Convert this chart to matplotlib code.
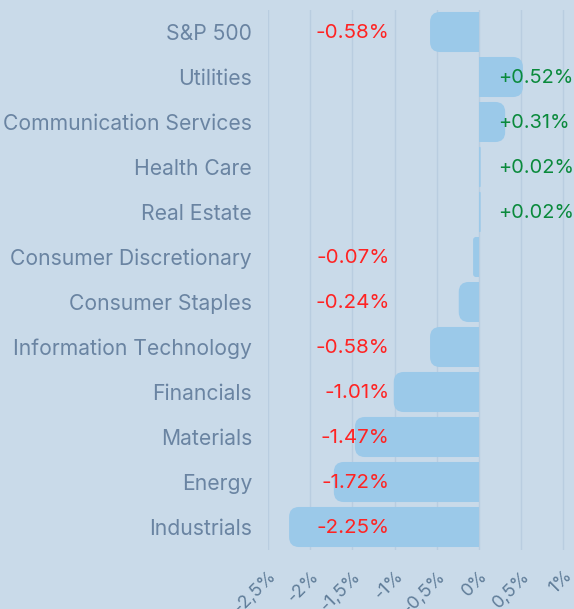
import matplotlib.pyplot as plt
from matplotlib.patches import FancyBboxPatch, Rectangle

sectors = ["S&P 500", "Utilities", "Communication Services", "Health Care",
           "Real Estate", "Consumer Discretionary", "Consumer Staples",
           "Information Technology", "Financials", "Materials", "Energy",
           "Industrials"]
changes = [-0.58, 0.52, 0.31, 0.02, 0.02, -0.07, -0.24, -0.58, -1.01,
           -1.47, -1.72, -2.25]
xticks = [-2.5, -2, -1.5, -1, -0.5, 0, 0.5, 1]
xticklabels = ["-2,5%", "-2%", "-1,5%", "-1%", "-0,5%", "0%", "0,5%", "1%"]

bg = "#c9dae9"
bar_c = "#9bc9e9"
txt_c = "#6a84a2"
tick_c = "#607d99"
grid_c = "#b9cde0"
red = "#ff2323"
green = "#0a8a3c"

plt.rcParams['font.family'] = ['Inter', 'DejaVu Sans']

fig = plt.figure(figsize=(5.74, 6.09), dpi=100, facecolor=bg)
ax = fig.add_axes([268 / 574, 59.5 / 609, 306 / 574, 540 / 609])
ax.set_facecolor(bg)

ypos = list(range(len(sectors)))
bars = ax.barh(ypos, changes, height=0.89, color=bar_c)

ax.set_xlim(-2.5, 1.1256)
ax.set_ylim(len(sectors) - 0.5, -0.5)

# rounded outer end, square at zero
rx = 0.118
ry = 0.222
for b, v in zip(bars, changes):
    b.set_visible(False)
    y0, h = b.get_y(), b.get_height()
    x0 = min(0, v)
    w = abs(v)
    r = min(rx, w / 2)
    ax.add_patch(FancyBboxPatch((x0, y0), w, h,
                                boxstyle=f"round,pad=0,rounding_size={r}",
                                mutation_aspect=ry / rx, fc=bar_c, ec="none",
                                zorder=2))
    ax.add_patch(Rectangle((min(0, v / 2), y0), w / 2, h, fc=bar_c,
                           ec="none", zorder=2))

for y, v in zip(ypos, changes):
    if v < 0:
        ax.text(-1.06, y + 0.03, f"{v:.2f}%", ha="right", va="center",
                color=red, fontsize=14.8, zorder=3)
    else:
        ax.text(0.225, y + 0.03, f"+{v:.2f}%", ha="left", va="center",
                color=green, fontsize=14.4, zorder=3)

ax.set_xticks(xticks)
ax.set_xticklabels(xticklabels, rotation=45, ha="right", va="top",
                   rotation_mode="anchor", color=tick_c, fontsize=13)
ax.set_yticks(ypos)
ax.set_yticklabels(sectors, color=txt_c, fontsize=15.2)
ax.tick_params(axis="both", length=0)
ax.tick_params(axis="y", pad=11.5)
ax.tick_params(axis="x", pad=13)
ax.grid(axis="x", color=grid_c, linewidth=1, zorder=0)
ax.set_axisbelow(True)
for s in ax.spines.values():
    s.set_visible(False)

fig.savefig("out.png", dpi=100, facecolor=bg)
